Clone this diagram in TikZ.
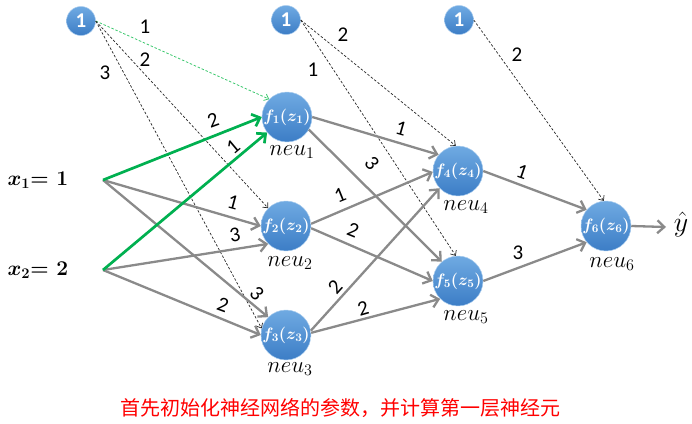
\documentclass[tikz,border=0pt]{standalone}
\usepackage{fix-cm}
\usepackage{fontspec}
\newfontfamily\cjk{Noto Sans CJK SC}
\newfontfamily\numfont{Carlito}
\usetikzlibrary{arrows.meta}
\definecolor{nTop}{HTML}{6FAAE2}
\definecolor{nBot}{HTML}{3C7DC6}
\definecolor{lineGrey}{HTML}{8A8A8A}
\definecolor{lineGreen}{HTML}{00B050}
\definecolor{dashGreen}{HTML}{3CC86E}
\begin{document}
\begin{tikzpicture}[x=1pt,y=1pt,
  neuron/.style={circle, minimum size=46pt, inner sep=0pt, top color=nTop, bottom color=nBot,
    draw=nTop!60!white, line width=0.5pt, text=white, font=\fontsize{16.5}{16.5}\selectfont\boldmath},
  bias/.style={circle, minimum size=29pt, inner sep=0pt, top color=nTop, bottom color=nBot,
    draw=nTop!60!white, line width=0.5pt, text=white, font=\numfont\bfseries\fontsize{21}{21}\selectfont},
  conn/.style={draw=lineGrey, line width=2.3pt, -{Straight Barb[length=7pt,width=13pt]}},
  gconn/.style={draw=lineGreen, line width=2.7pt, -{Straight Barb[length=7pt,width=13pt]}},
  dconn/.style={draw=black!85, line width=0.7pt, dash pattern=on 2.5pt off 1.8pt, -{Straight Barb[length=4pt,width=7pt]}},
  gdconn/.style={draw=dashGreen, line width=0.8pt, dash pattern=on 2.5pt off 1.8pt, -{Straight Barb[length=4pt,width=7pt]}},
  wl/.style={font=\numfont\fontsize{21}{21}\selectfont, inner sep=0pt},
  neul/.style={font=\fontsize{23}{23}\selectfont, inner sep=0pt},
  inl/.style={font=\fontsize{21}{21}\selectfont\bfseries, inner sep=0pt}]
\useasboundingbox (0,0) rectangle (692,-423);
% bias nodes
\node[bias] (b1) at (81,-21) {1};
\node[bias] (b2) at (286,-20) {1};
\node[bias] (b3) at (459,-20) {1};
% neurons
\node[neuron] (n1) at (287,-117) {$f_1(z_1)$};
\node[neuron] (n2) at (286,-226) {$f_2(z_2)$};
\node[neuron] (n3) at (286,-335) {$f_3(z_3)$};
\node[neuron] (n4) at (458,-171) {$f_4(z_4)$};
\node[neuron] (n5) at (458,-281) {$f_5(z_5)$};
\node[neuron] (n6) at (606,-226) {$f_6(z_6)$};
% inputs
\coordinate (x1) at (103,-180);
\coordinate (x2) at (103,-270);
\node[inl] (lx1) at (38,-180) {{\boldmath$x_1$}= 1};
\node[inl] (lx2) at (38,-270) {{\boldmath$x_2$}= 2};
% neuron labels
\node[neul] (l1) at (292,-152) {$neu_1$};
\node[neul] (l2) at (290,-263) {$neu_2$};
\node[neul] (l3) at (290,-369) {$neu_3$};
\node[neul] (l4) at (466,-207) {$neu_4$};
\node[neul] (l5) at (466,-317) {$neu_5$};
\node[neul] (l6) at (612,-264) {$neu_6$};
\node[font=\fontsize{28}{28}\selectfont, inner sep=0pt] (yh) at (681,-224) {$\hat{y}$};
\coordinate (yend) at (666,-227);
% dashed bias connectors
\draw[gdconn] (b1.east) -- (n1.135);
\draw[dconn] (b1.east) -- (n2.135);
\draw[dconn] (b1.east) -- (n3.165);
\draw[dconn] (b2.east) -- (n4.95);
\draw[dconn] (b2.east) -- (n5.95);
\draw[dconn] (b3.east) -- (n6.95);
% input connectors
\draw[conn] (x1) -- (n2.180);
\draw[conn] (x2) -- (n2.225);
\draw[conn] (x1) -- (n3.135);
\draw[conn] (x2) -- (n3.180);
\draw[gconn] (x1) -- (n1.180);
\draw[gconn] (x2) -- (n1.218);
% hidden connectors
\draw[conn] (n1.east) -- (n4.140);
\draw[conn] (n1.-30) -- (n5.130);
\draw[conn] (n2.5) -- (n4.182);
\draw[conn] (n2.-5) -- (n5.180);
\draw[conn] (n3.10) -- (n4.223);
\draw[conn] (n3.5) -- (n5.225);
\draw[conn] (n4.east) -- (n6.140);
\draw[conn] (n5.east) -- (n6.220);
\draw[conn] (n6.east) -- (yend);
% weight labels (bias)
\node[wl] (wb1) at (145,-27) {1};
\node[wl] (wb2) at (145,-60) {2};
\node[wl] (wb3) at (105,-73) {3};
\node[wl] (wb4) at (343,-35) {2};
\node[wl] (wb5) at (313,-70) {1};
\node[wl] (wb6) at (517,-55) {2};
% weight labels (solid)
\node[wl, rotate=20] (w1) at (213,-120) {2};
\node[wl, rotate=40] (w2) at (233,-147) {1};
\node[wl, rotate=-15] (w3) at (233,-202) {1};
\node[wl, rotate=10] (w4) at (235,-235) {3};
\node[wl, rotate=-45] (w5) at (257,-293) {3};
\node[wl, rotate=-20] (w6) at (223,-305) {2};
\node[wl, rotate=-16] (w7) at (401,-128) {1};
\node[wl, rotate=-50] (w8) at (372,-163) {3};
\node[wl, rotate=22] (w9) at (340,-195) {1};
\node[wl, rotate=-22] (w10) at (353,-230) {2};
\node[wl, rotate=48] (w11) at (335,-287) {2};
\node[wl, rotate=16] (w12) at (363,-308) {2};
\node[wl, rotate=-19] (w13) at (522,-172) {1};
\node[wl] (w14) at (518,-253) {3};
% caption
\node[font=\cjk\fontsize{20}{20}\selectfont, text=red, inner sep=0pt] (cap) at (340,-408) {首先初始化神经网络的参数，并计算第一层神经元};
\end{tikzpicture}
\end{document}
